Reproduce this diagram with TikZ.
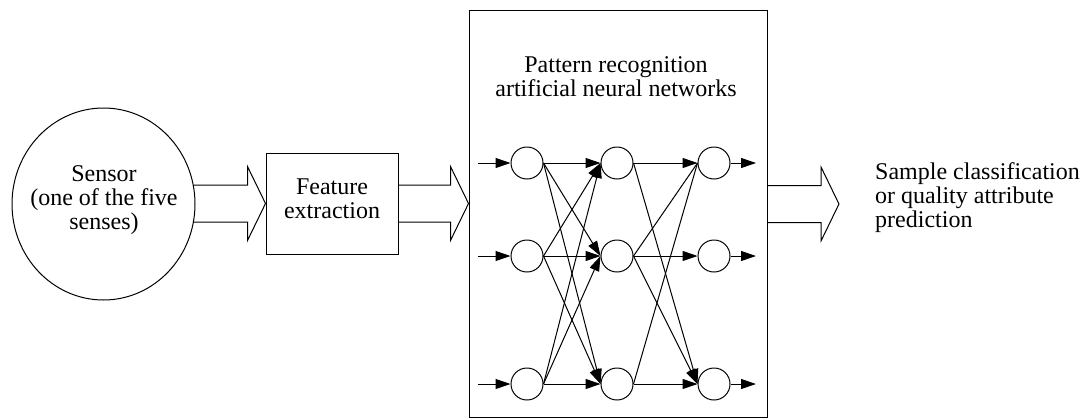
\documentclass[tikz,border=0pt]{standalone}
\usepackage{fontspec}
\setmainfont{Liberation Serif}
\usetikzlibrary{calc,arrows.meta,shapes.geometric}

\tikzset{
  txt/.style={font=\fontsize{24}{24}\selectfont, inner sep=0pt, align=center},
  frame/.style={draw, line width=1pt, inner sep=0pt},
  neuron/.style={circle, draw, line width=1pt, fill=white, minimum size=32pt, inner sep=0pt},
  link/.style={line width=1pt, -{Triangle[length=15pt,width=10pt]}},
  plain/.style={line width=1pt},
  fat/.style={line width=1pt, line join=miter}
}

% hollow block arrow: #1 = tail (its x is used), #2 = tip
\newcommand{\fatarrow}[2]{%
  \draw[fat] let \p1=(#1), \p2=(#2) in
    (\x1,{\y2+18.5pt}) -- ({\x2-18pt},{\y2+18.5pt}) -- ({\x2-18pt},{\y2+37pt})
    -- (\x2,\y2) -- ({\x2-18pt},{\y2-37pt}) -- ({\x2-18pt},{\y2-18.5pt})
    -- (\x1,{\y2-18.5pt});}

\begin{document}
\begin{tikzpicture}[x=1pt,y=-1pt]
\useasboundingbox (0,0) rectangle (1084,418);

% sensor, feature block, network frame
\node[frame, ellipse, minimum width=183pt, minimum height=192pt] (sensor) at (103.5,204) {};
\node[txt] (sensortxt) at (104,200) {Sensor\\(one of the five\\senses)};

\node[frame, minimum width=132pt, minimum height=101pt] (feature) at (332,203.5) {};
\node[txt] (featuretxt) at (332,199) {Feature\\extraction};

\node[frame, minimum width=298pt, minimum height=407pt] (nnbox) at (618,213.5) {};
\node[txt] (nntxt) at (616,77) {Pattern recognition\\artificial neural networks};

\node[txt, align=left, anchor=west] (result) at (875,198) {Sample classification\\or quality attribute\\prediction};

% block arrows between the stages
\coordinate (outtip) at (839,204);
\fatarrow{sensor.11.6}{feature.west}
\fatarrow{feature.east}{nnbox.west |- feature.east}
\fatarrow{nnbox.east |- feature.east}{outtip}

% neurons
\foreach \r/\y in {1/163,2/256,3/384}{
  \node[neuron] (i\r) at (527,\y) {};
  \node[neuron] (h\r) at (617,\y) {};
  \node[neuron] (o\r) at (714,\y) {};
  \coordinate (in\r) at (478,\y);
  \coordinate (out\r) at (756,\y);
  \draw[link] (in\r) -- (i\r.west);
  \draw[link] (o\r.east) -- (out\r);
}

% input layer to hidden layer
\foreach \a in {1,2,3}{
  \foreach \b in {1,2,3}{
    \draw[link] (i\a.east) -- (h\b.west);
  }
}

% hidden layer to output layer
\draw[link] (h1.east) -- (o1.west);
\draw[link] (h1.east) -- (o3.west);
\draw[plain] (h2.east) -- (o1.west);
\draw[link] (h2.east) -- (o2.west);
\draw[link] (h2.east) -- (o3.west);
\draw[plain] (h3.east) -- (o1.west);
\draw[link] (h3.east) -- (o3.west);
\end{tikzpicture}
\end{document}
